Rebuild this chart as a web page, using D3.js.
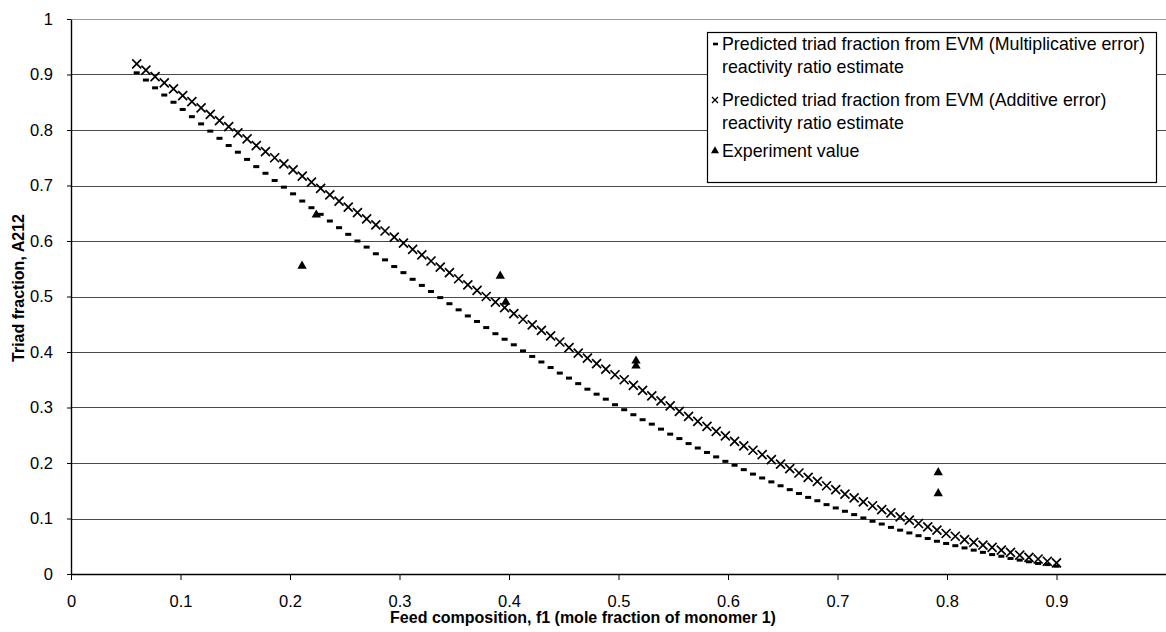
<!DOCTYPE html>
<html>
<head>
<meta charset="utf-8">
<script src="https://cdn.jsdelivr.net/npm/d3@7"></script>
<style>
  body { margin: 0; background: #fff; }
  svg { display: block; }
  text { font-family: "Liberation Sans", Arial, sans-serif; fill: #000; }
</style>
</head>
<body>
<svg id="chart" width="1166" height="632"></svg>
<script>
// Feed composition f1 at which the predicted triad fractions were evaluated
const feedF1 = [
  0.0600, 0.0684, 0.0768, 0.0852, 0.0936, 0.1020, 0.1104, 0.1188, 0.1272, 0.1356,
  0.1440, 0.1524, 0.1608, 0.1692, 0.1776, 0.1860, 0.1944, 0.2028, 0.2112, 0.2196,
  0.2280, 0.2364, 0.2448, 0.2532, 0.2616, 0.2700, 0.2784, 0.2868, 0.2952, 0.3036,
  0.3120, 0.3204, 0.3288, 0.3372, 0.3456, 0.3540, 0.3624, 0.3708, 0.3792, 0.3876,
  0.3960, 0.4044, 0.4128, 0.4212, 0.4296, 0.4380, 0.4464, 0.4548, 0.4632, 0.4716,
  0.4800, 0.4884, 0.4968, 0.5052, 0.5136, 0.5220, 0.5304, 0.5388, 0.5472, 0.5556,
  0.5640, 0.5724, 0.5808, 0.5892, 0.5976, 0.6060, 0.6144, 0.6228, 0.6312, 0.6396,
  0.6480, 0.6564, 0.6648, 0.6732, 0.6816, 0.6900, 0.6984, 0.7068, 0.7152, 0.7236,
  0.7320, 0.7404, 0.7488, 0.7572, 0.7656, 0.7740, 0.7824, 0.7908, 0.7992, 0.8076,
  0.8160, 0.8244, 0.8328, 0.8412, 0.8496, 0.8580, 0.8664, 0.8748, 0.8832, 0.8916,
  0.9000
];

// Predicted A212 from the EVM (multiplicative error) reactivity ratio estimate
const multA212 = [
  0.903, 0.890, 0.876, 0.863, 0.850, 0.837, 0.824, 0.811, 0.798, 0.785,
  0.772, 0.760, 0.747, 0.734, 0.722, 0.709, 0.697, 0.685, 0.672, 0.660,
  0.648, 0.636, 0.624, 0.612, 0.600, 0.589, 0.577, 0.566, 0.554, 0.543,
  0.531, 0.520, 0.509, 0.498, 0.487, 0.476, 0.465, 0.455, 0.444, 0.433,
  0.423, 0.413, 0.402, 0.392, 0.382, 0.372, 0.362, 0.353, 0.343, 0.333,
  0.324, 0.315, 0.305, 0.296, 0.287, 0.278, 0.270, 0.261, 0.252, 0.244,
  0.235, 0.227, 0.219, 0.211, 0.203, 0.196, 0.188, 0.180, 0.173, 0.166,
  0.159, 0.152, 0.145, 0.138, 0.132, 0.125, 0.119, 0.113, 0.107, 0.101,
  0.095, 0.090, 0.084, 0.079, 0.074, 0.069, 0.064, 0.059, 0.055, 0.051,
  0.047, 0.043, 0.039, 0.035, 0.032, 0.028, 0.025, 0.022, 0.019, 0.017,
  0.014
];

// Predicted A212 from the EVM (additive error) reactivity ratio estimate
const addA212 = [
  0.919, 0.908, 0.896, 0.885, 0.874, 0.862, 0.851, 0.840, 0.828, 0.817,
  0.806, 0.795, 0.784, 0.772, 0.761, 0.750, 0.739, 0.728, 0.717, 0.706,
  0.695, 0.683, 0.672, 0.661, 0.651, 0.640, 0.629, 0.618, 0.607, 0.596,
  0.585, 0.575, 0.564, 0.553, 0.543, 0.532, 0.521, 0.511, 0.500, 0.490,
  0.480, 0.469, 0.459, 0.449, 0.439, 0.429, 0.418, 0.408, 0.398, 0.389,
  0.379, 0.369, 0.359, 0.350, 0.340, 0.331, 0.321, 0.312, 0.303, 0.293,
  0.284, 0.275, 0.266, 0.257, 0.249, 0.239, 0.231, 0.223, 0.215, 0.206,
  0.198, 0.190, 0.182, 0.174, 0.167, 0.159, 0.152, 0.144, 0.137, 0.130,
  0.123, 0.116, 0.110, 0.103, 0.097, 0.091, 0.085, 0.079, 0.073, 0.068,
  0.062, 0.057, 0.052, 0.048, 0.043, 0.039, 0.034, 0.030, 0.027, 0.023,
  0.020
];

// Measured triad fractions
const expF1   = [0.211, 0.224, 0.392, 0.397, 0.516, 0.516, 0.792, 0.792];
const expA212 = [0.555, 0.647, 0.537, 0.490, 0.384, 0.375, 0.183, 0.145];

// Axis ticks (the last x tick sits on the right edge and carries no label)
const xTickValues = [0, 0.1, 0.2, 0.3, 0.4, 0.5, 0.6, 0.7, 0.8, 0.9, 1];
const xTickLabels = ["0", "0.1", "0.2", "0.3", "0.4", "0.5", "0.6", "0.7", "0.8", "0.9", ""];
const yTickValues = [0, 0.1, 0.2, 0.3, 0.4, 0.5, 0.6, 0.7, 0.8, 0.9, 1];
const yTickLabels = ["0", "0.1", "0.2", "0.3", "0.4", "0.5", "0.6", "0.7", "0.8", "0.9", "1"];

const legendItems = [
  { marker: "dash",  lines: ["Predicted triad fraction from EVM (Multiplicative error)", "reactivity ratio estimate"] },
  { marker: "cross", lines: ["Predicted triad fraction from EVM (Additive error)", "reactivity ratio estimate"] },
  { marker: "tri",   lines: ["Experiment value"] }
];

const svg = d3.select("#chart");
const plot = { left: 71, right: 1166, top: 19, bottom: 574 };

const x = d3.scaleLinear().domain([0, 1]).range([plot.left, plot.right]);
const y = d3.scaleLinear().domain([0, 1]).range([plot.bottom, plot.top]);

// Horizontal gridlines
svg.append("g")
  .selectAll("line")
  .data(yTickValues.filter(v => v > 0))
  .join("line")
  .attr("x1", plot.left).attr("x2", plot.right)
  .attr("y1", d => Math.round(y(d)) + 0.5).attr("y2", d => Math.round(y(d)) + 0.5)
  .attr("stroke", d => d === 1 ? "#9a9a9a" : "#4a4a4a")
  .attr("stroke-width", 1);

// Axes
const xAxis = d3.axisBottom(x)
  .tickValues(xTickValues)
  .tickFormat((d, i) => xTickLabels[i])
  .tickSizeInner(6).tickSizeOuter(0).tickPadding(15);
const yAxis = d3.axisLeft(y)
  .tickValues(yTickValues)
  .tickFormat((d, i) => yTickLabels[i])
  .tickSizeInner(4).tickSizeOuter(0).tickPadding(14);

const gx = svg.append("g").attr("transform", `translate(0,${plot.bottom})`).call(xAxis);
const gy = svg.append("g").attr("transform", `translate(${plot.left},0)`).call(yAxis);
[gx, gy].forEach(g => {
  g.select(".domain").attr("stroke", "#000").attr("stroke-width", 1.4);
  g.selectAll(".tick line").attr("stroke", "#000");
  g.selectAll(".tick text")
    .style("font-family", '"Liberation Sans", Arial, sans-serif')
    .style("font-size", "16.5px").attr("fill", "#000");
});

// Axis titles
svg.append("text")
  .attr("x", 583).attr("y", 623)
  .attr("text-anchor", "middle")
  .style("font-size", "16px").style("font-weight", "bold")
  .text("Feed composition, f1 (mole fraction of monomer 1)");

svg.append("text")
  .attr("transform", "translate(24,288) rotate(-90)")
  .attr("text-anchor", "middle")
  .style("font-size", "16px").style("font-weight", "bold")
  .text("Triad fraction, A212");

// Multiplicative-error prediction: small dashes
svg.append("g")
  .selectAll("rect")
  .data(feedF1.map((f, i) => [f, multA212[i]]))
  .join("rect")
  .attr("x", d => x(d[0]) - 3).attr("y", d => y(d[1]) - 1.5)
  .attr("width", 6).attr("height", 3)
  .attr("fill", "#000");

// Additive-error prediction: crosses
const crossPath = "M-4.5,-4.5L4.5,4.5M-4.5,4.5L4.5,-4.5";
svg.append("g")
  .selectAll("path")
  .data(feedF1.map((f, i) => [f, addA212[i]]))
  .join("path")
  .attr("transform", d => `translate(${x(d[0])},${y(d[1])})`)
  .attr("d", crossPath)
  .attr("stroke", "#000").attr("stroke-width", 1.7).attr("fill", "none");

// Experimental values: filled triangles
const tri = d3.symbol().type(d3.symbolTriangle).size(38);
svg.append("g")
  .selectAll("path")
  .data(expF1.map((f, i) => [f, expA212[i]]))
  .join("path")
  .attr("transform", d => `translate(${x(d[0])},${y(d[1])})`)
  .attr("d", tri)
  .attr("fill", "#000");

// Legend
const legend = svg.append("g");
legend.append("rect")
  .attr("x", 707.5).attr("y", 32.5).attr("width", 449).attr("height", 150)
  .attr("fill", "#fff").attr("stroke", "#000").attr("stroke-width", 1.2);

const entryBaselines = [[50, 73], [106, 129], [157]];
const textX = 722;
legendItems.forEach((item, k) => {
  const base = entryBaselines[k];
  const my = base[0] - 6;
  if (item.marker === "dash") {
    legend.append("rect").attr("x", 713).attr("y", my - 1.3).attr("width", 5).attr("height", 2.6).attr("fill", "#000");
  } else if (item.marker === "cross") {
    legend.append("path").attr("transform", `translate(715,${my})`)
      .attr("d", "M-3,-3L3,3M-3,3L3,-3").attr("stroke", "#000").attr("stroke-width", 1.3);
  } else {
    legend.append("path").attr("transform", `translate(715,${my})`)
      .attr("d", d3.symbol().type(d3.symbolTriangle).size(28)).attr("fill", "#000");
  }
  item.lines.forEach((ln, j) => {
    legend.append("text")
      .attr("x", textX).attr("y", base[j])
      .style("font-size", "17.8px")
      .text(ln);
  });
});
</script>
</body>
</html>
